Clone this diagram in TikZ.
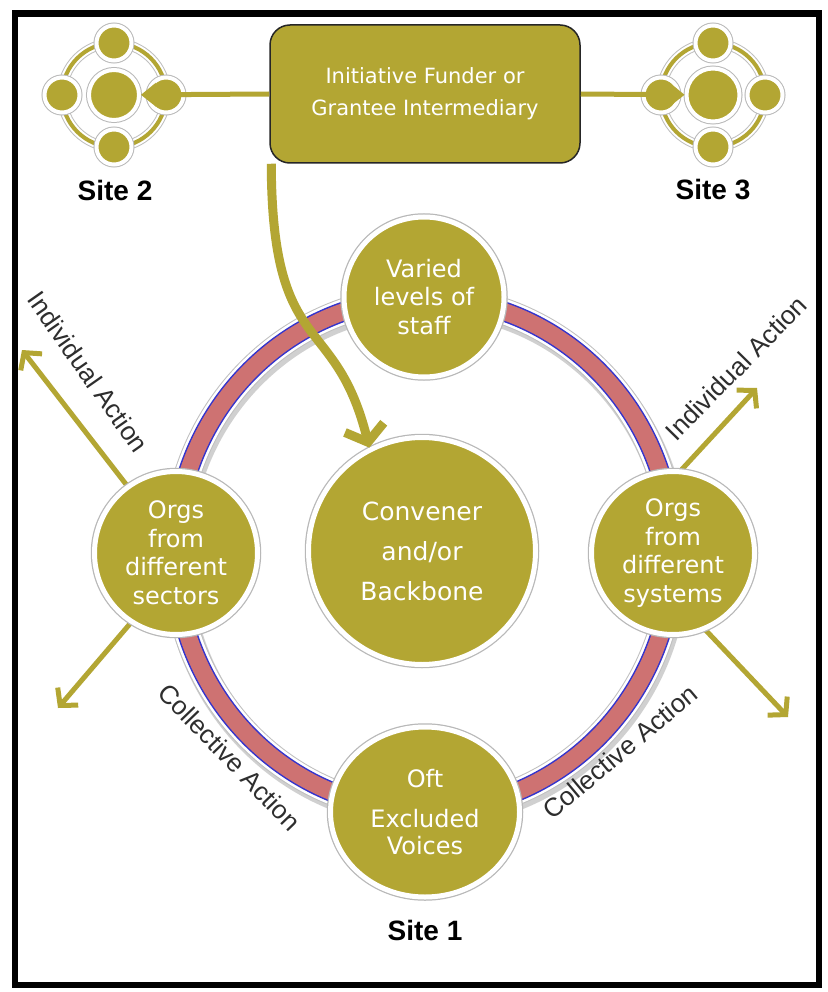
\documentclass[tikz,border=0pt]{standalone}
\usepackage{fontspec}
\setmainfont{DejaVu Sans}
\newfontfamily\arialfont{Liberation Sans}
\usetikzlibrary{arrows.meta,shapes.geometric}
\pgfdeclarelayer{bg}
\pgfdeclarelayer{paper}
\pgfsetlayers{paper,bg,main}
\definecolor{olv}{HTML}{B3A633}
\definecolor{bandpink}{HTML}{CE7272}
\definecolor{bandblue}{HTML}{3434CC}
\definecolor{labelgray}{HTML}{2E2E2E}
\begin{document}
\begin{tikzpicture}[x=1pt,y=-1pt,
  ringnode/.style={circle, fill=olv, draw=white, line width=5pt,
     preaction={draw=black!28, line width=7.5pt},
     text=white, align=center, inner sep=0pt,
     font=\fontsize{24}{28.5}\selectfont},
  satnode/.style={circle, fill=olv, draw=white, line width=4pt,
     preaction={draw=black!28, line width=6pt}, inner sep=0pt, minimum size=35pt},
  actarrow/.style={draw=olv, line width=5pt, -{Straight Barb[length=12pt,width=27pt]}},
  curvarrow/.style={draw=olv, line width=9pt, -{Straight Barb[length=15pt,width=40pt]}},
  linkarrow/.style={draw=olv, line width=5pt, -{Stealth[length=15pt,width=24pt]}},
  actlabel/.style={font=\arialfont\fontsize{26}{30}\selectfont, text=labelgray},
  sitelabel/.style={font=\arialfont\bfseries\fontsize{28}{32}\selectfont, text=black},
  boxnode/.style={rectangle, rounded corners=20pt, fill=olv, draw=black!85, line width=1.5pt,
     minimum width=310pt, minimum height=138pt, text=white, align=center,
     font=\fontsize{21}{32}\selectfont},
]
\useasboundingbox (0,0) rectangle (827,992);
\begin{pgfonlayer}{paper}
  \fill[white] (0,0) rectangle (827,992);
\end{pgfonlayer}
\draw[line width=6.5pt] (15,13.5) rectangle (819,985);

% ring nodes
\node[ringnode, minimum size=227pt, font=\fontsize{25}{40}\selectfont] (conv) at (422,551) {Convener\\and/or\\Backbone};
\node[ringnode, minimum size=160pt] (top) at (424,297) {Varied\\levels of\\staff};
\node[ringnode, minimum size=163pt] (ln) at (176,553) {Orgs\\from\\different\\sectors};
\node[ringnode, minimum size=163pt] (rn) at (673,553) {Orgs\\from\\different\\systems};
\node[ringnode, ellipse, minimum width=189pt, minimum height=170pt, font=\fontsize{24}{27}\selectfont] (bn) at (425,812) {Oft\\[13pt]Excluded\\Voices};

% free ends of the action arrows
\coordinate (iaL) at (22,350);
\coordinate (caL) at (58,708);
\coordinate (iaR) at (757,388);
\coordinate (caR) at (788,717);

\begin{pgfonlayer}{bg}
  % ring band
  \coordinate (ringc) at (424,554);
  \draw[black!30, line width=28pt, opacity=0.6] ([shift={(2,4)}]ringc) ellipse [x radius=249, y radius=256];
  \draw[black!25, line width=27pt] (ringc) ellipse [x radius=249, y radius=256];
  \draw[white, line width=25pt] (ringc) ellipse [x radius=249, y radius=256];
  \draw[bandblue, line width=20pt] (ringc) ellipse [x radius=249, y radius=256];
  \draw[bandpink, line width=17pt] (ringc) ellipse [x radius=249, y radius=256];
  % action arrows
  \draw[actarrow] (ln.126) -- (iaL);
  \draw[actarrow] (ln.237) -- (caL);
  \draw[actarrow] (rn.84) -- (iaR);
  \draw[actarrow] (rn.-67) -- (caR);
\end{pgfonlayer}

% action labels
\node[actlabel, rotate=-55] (lblIL) at (88,372) {Individual Action};
\node[actlabel, rotate=45.5] (lblIR) at (736,368) {Individual Action};
\node[actlabel, rotate=-46] (lblCL) at (230,757) {Collective Action};
\node[actlabel, rotate=40] (lblCR) at (620,752) {Collective Action};

% top box
\node[boxnode] (box) at (425,94) {Initiative Funder or\\Grantee Intermediary};

% curved arrow from box to convener
\draw[curvarrow] ([xshift=2pt]box.south west) .. controls (272,360) and (335,310) .. (conv.117);

% Site 2 cluster
\coordinate (s2) at (114,95);
\draw[black!25, line width=10pt] (s2) circle (52);
\draw[white, line width=8pt] (s2) circle (52);
\draw[olv, line width=4pt] (s2) circle (52);
\node[satnode] (s2t) at (114,43) {};
\node[satnode] (s2l) at (62,95) {};
\node[satnode] (s2r) at (166,95) {};
\node[satnode] (s2b) at (114,147) {};
\node[satnode, minimum size=50pt] (s2c) at (s2) {};
\draw[linkarrow] (box.west) -- (s2c);

% Site 3 cluster
\coordinate (s3) at (713,95);
\draw[black!25, line width=10pt] (s3) circle (52);
\draw[white, line width=8pt] (s3) circle (52);
\draw[olv, line width=4pt] (s3) circle (52);
\node[satnode] (s3t) at (713,43) {};
\node[satnode] (s3l) at (661,95) {};
\node[satnode] (s3r) at (765,95) {};
\node[satnode] (s3b) at (713,147) {};
\node[satnode, minimum size=53pt] (s3c) at (s3) {};
\draw[linkarrow] (box.east) -- (s3c);

% site labels
\node[sitelabel] (site2) at (115,190) {Site 2};
\node[sitelabel] (site3) at (713,190) {Site 3};
\node[sitelabel] (site1) at (425,930) {Site 1};
\end{tikzpicture}
\end{document}
